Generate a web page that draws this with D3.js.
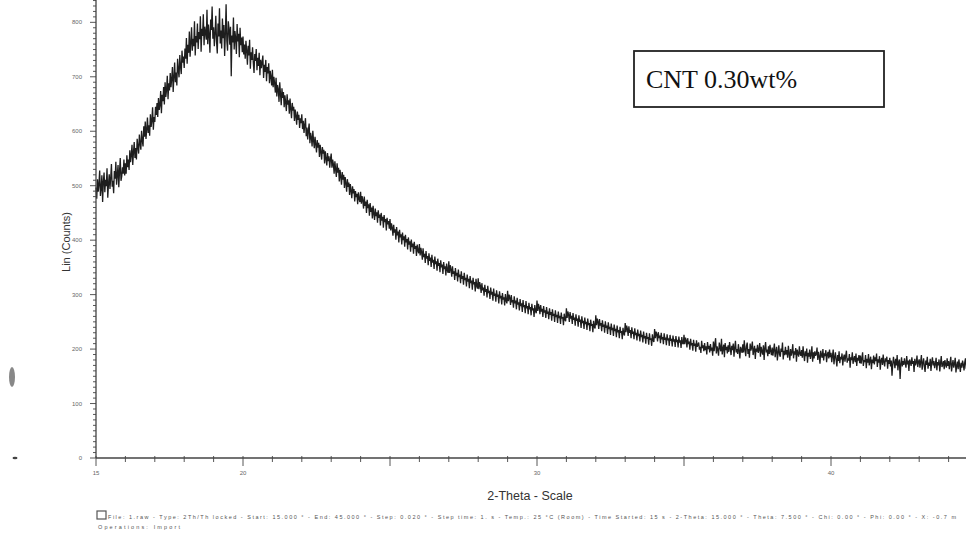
<!DOCTYPE html>
<html>
<head>
<meta charset="utf-8">
<script src="https://cdn.jsdelivr.net/npm/d3@7"></script>
<style>
  body { margin: 0; background: #fff; }
  svg { display: block; }
</style>
</head>
<body>
<div id="chart"></div>
<script>
// 2-theta start and step of the scan (degrees)
const thetaStart = 15;
const thetaStep = 0.025;

// counts, one degree (40 points) per pair of lines, 15..44
const counts = [
  497,476,512,489,503,528,481,495,519,470,507,524,488,511,499,532,478,503,521,494,
  515,540,498,509,486,527,513,544,502,520,538,497,526,551,509,517,534,522,548,519,
  541,522,556,534,548,529,565,543,557,575,538,562,580,551,569,548,586,571,559,594,
  577,566,601,583,572,609,590,618,586,603,625,597,611,592,631,608,620,644,603,626,
  617,645,630,652,626,661,639,648,674,633,667,655,681,649,690,663,676,702,659,688,
  675,707,681,697,718,672,699,726,690,708,684,733,712,699,740,719,705,748,726,737,
  716,752,733,771,724,759,744,783,737,762,791,748,770,756,802,739,775,763,798,751,
  782,769,811,746,788,775,815,758,792,781,768,823,760,796,777,744,805,786,829,770,
  791,756,780,812,765,743,798,774,826,761,785,752,807,771,795,738,779,833,766,748,
  802,788,759,792,701,776,763,809,750,784,771,742,797,765,779,736,790,758,772,745,
  774,741,759,733,766,748,722,757,739,768,715,745,731,754,726,707,742,729,751,712,
  735,720,744,703,731,716,727,739,698,722,709,731,692,718,706,725,688,711,700,684,
  713,681,700,688,671,698,664,685,677,654,690,669,648,679,661,672,644,666,653,637,
  668,649,657,632,660,641,624,652,638,645,619,640,628,612,636,621,630,606,624,615,
  631,604,619,597,612,624,591,607,585,602,614,578,597,589,572,601,583,569,590,576,
  561,584,570,579,553,575,562,548,571,559,566,541,563,550,537,560,545,554,533,549,
  559,533,548,539,522,545,530,516,541,524,533,508,529,517,502,525,511,520,496,516,
  505,489,512,498,506,483,503,491,477,499,486,494,471,490,479,485,466,488,476,470,
  489,467,481,473,458,480,463,471,450,474,459,466,445,468,452,460,440,463,449,437,
  458,444,451,432,455,441,447,427,450,436,443,423,446,433,439,418,441,429,435,421,
  439,418,431,423,408,428,414,420,401,424,409,416,396,419,405,411,392,414,400,407,
  388,410,396,402,383,405,392,398,379,401,387,394,375,397,384,389,371,392,381,376,
  393,372,386,378,364,385,369,375,358,380,366,371,354,376,362,368,351,373,359,364,
  347,370,356,361,344,366,353,358,341,363,350,355,338,360,347,352,335,357,345,340,
  361,340,354,346,333,352,338,343,327,349,335,340,324,346,332,337,321,343,329,334,
  318,340,327,331,315,337,324,329,312,334,321,326,309,331,319,323,306,329,316,311,
  330,310,323,316,303,321,308,313,298,318,305,310,295,316,303,307,292,313,300,305,
  289,311,298,302,287,308,296,300,284,306,293,298,282,303,291,295,280,301,289,284,
  307,288,300,294,281,299,286,290,276,297,284,289,273,294,282,286,271,292,279,284,
  268,290,277,281,266,288,275,279,264,285,273,277,262,283,271,275,259,281,269,266,
  289,270,283,276,264,281,269,274,259,279,267,271,257,277,265,269,255,275,263,268,
  252,273,261,265,250,271,259,263,248,269,257,261,246,267,256,259,244,265,254,251,
  275,257,269,263,250,268,256,261,246,266,254,258,243,264,252,256,241,262,250,254,
  239,260,248,252,237,258,246,250,235,256,244,248,233,254,243,246,231,252,241,238,
  262,244,256,250,237,255,243,248,233,253,241,245,230,251,239,243,228,249,237,241,
  226,247,235,239,224,245,233,237,222,243,231,235,220,241,230,233,218,239,228,225,
  248,231,243,237,224,242,230,235,220,240,228,232,218,238,226,230,216,236,224,228,
  214,234,222,226,212,232,220,224,210,230,219,222,208,229,217,220,206,227,216,213,
  237,220,232,227,214,231,220,225,211,230,218,222,209,229,217,221,207,227,216,220,
  206,226,215,219,205,225,214,218,204,224,213,217,203,223,212,216,202,222,211,209,
  226,209,221,216,203,220,209,214,199,219,207,211,197,217,206,210,195,216,204,208,
  212,199,204,193,215,202,207,196,211,198,205,190,213,200,206,194,209,197,203,188,
  214,196,209,220,192,205,199,188,212,203,196,219,190,201,208,185,211,198,204,192,
  207,195,213,201,189,206,198,210,186,203,215,194,200,191,209,197,183,204,199,193,
  209,194,216,199,187,206,212,191,200,184,210,197,203,214,189,198,206,182,201,195,
  208,193,199,211,186,204,196,190,207,180,202,213,194,199,187,205,191,208,196,189,
  203,188,199,210,185,196,204,179,193,207,190,186,201,195,212,181,197,189,204,190,
  198,184,206,192,179,200,188,195,209,183,196,190,202,177,199,192,186,205,191,188,
  198,184,205,190,178,196,187,201,175,193,186,199,182,190,205,177,194,183,196,188,
  191,203,180,195,186,173,197,189,184,200,179,192,187,198,176,190,195,183,199,185,
  193,176,188,199,172,185,194,180,168,189,178,196,174,186,181,192,170,184,190,177,
  188,197,175,183,179,191,166,185,180,194,173,182,187,176,192,169,184,179,189,174,
  188,173,183,194,169,180,176,189,165,182,175,191,170,179,186,163,181,174,188,172,
  185,178,192,167,181,175,187,162,179,184,171,190,176,168,183,177,186,164,180,173,
  184,168,179,151,172,186,175,165,182,170,189,161,176,181,145,173,185,168,178,171,
  183,174,166,187,172,179,160,181,176,169,185,173,178,158,182,170,175,188,167,177,
  181,166,177,189,162,174,183,168,158,179,171,186,164,175,169,182,160,176,185,170,
  178,165,173,184,161,176,170,181,159,174,187,167,172,178,163,180,171,166,183,169,
  178,163,175,186,159,171,180,166,173,184,157,169,177,163,181,170,158,175,166,179,
  172,161,176,183,164,170,178,155,173,167,181,162,175,169,177,160,174,171,165,178
];

const yTicks = [0, 100, 200, 300, 400, 500, 600, 700, 800];
const xTicks = [15, 20, 30, 40];
const sampleLabel = 'CNT 0.30wt%';
const footerLine1 = 'File: 1.raw - Type: 2Th/Th locked - Start: 15.000 \u00b0 - End: 45.000 \u00b0 - Step: 0.020 \u00b0 - Step time: 1. s - Temp.: 25 \u00b0C (Room) - Time Started: 15 s - 2-Theta: 15.000 \u00b0 - Theta: 7.500 \u00b0 - Chi: 0.00 \u00b0 - Phi: 0.00 \u00b0 - X: -0.7 m';
const footerLine2 = 'Operations: Import';

const data = counts.map((c, i) => ({ t: thetaStart + i * thetaStep, c }));

const W = 966, H = 537;
const svg = d3.select('#chart').append('svg')
  .attr('width', W).attr('height', H);

const x = d3.scaleLinear().domain([15, 45]).range([96, 978]);
const y = d3.scaleLinear().domain([0, 841]).range([458, 0]);

// curve
svg.append('path')
  .datum(data)
  .attr('fill', 'none')
  .attr('stroke', '#1e1e1e')
  .attr('stroke-width', 1.3)
  .attr('stroke-linejoin', 'bevel')
  .attr('d', d3.line().x(d => x(d.t)).y(d => y(d.c)));

// y axis
const axisCol = '#444';
svg.append('line')
  .attr('x1', x(15)).attr('x2', x(15))
  .attr('y1', 0).attr('y2', y(0))
  .attr('stroke', axisCol).attr('stroke-width', 1.3);

svg.selectAll('.yminor')
  .data(d3.range(0, 841, 10))
  .enter().append('line')
  .attr('x1', d => x(15) - (d % 100 === 0 ? 6 : 3))
  .attr('x2', x(15))
  .attr('y1', d => y(d)).attr('y2', d => y(d))
  .attr('stroke', axisCol).attr('stroke-width', 0.9);

svg.selectAll('.ylab')
  .data(yTicks)
  .enter().append('text')
  .attr('x', 82).attr('y', d => y(d) + 2)
  .attr('text-anchor', 'end')
  .style('font-family', 'Arial, "Liberation Sans", sans-serif')
  .style('font-size', '6px')
  .style('fill', '#666')
  .text(d => d);

// x axis
svg.append('line')
  .attr('x1', x(15)).attr('x2', W)
  .attr('y1', y(0)).attr('y2', y(0))
  .attr('stroke', axisCol).attr('stroke-width', 1.3);

svg.selectAll('.xminor')
  .data(d3.range(15, 46, 1))
  .enter().append('line')
  .attr('x1', d => x(d)).attr('x2', d => x(d))
  .attr('y1', y(0) - 2)
  .attr('y2', d => y(0) + (d % 5 === 0 ? 8 : 4))
  .attr('stroke', axisCol).attr('stroke-width', 0.9);

svg.selectAll('.xlab')
  .data(xTicks)
  .enter().append('text')
  .attr('x', d => x(d)).attr('y', 475)
  .attr('text-anchor', 'middle')
  .style('font-family', 'Arial, "Liberation Sans", sans-serif')
  .style('font-size', '6px')
  .style('fill', '#666')
  .text(d => d);

// axis titles
svg.append('text')
  .attr('transform', 'translate(70,242) rotate(-90)')
  .attr('text-anchor', 'middle')
  .style('font-family', 'Arial, "Liberation Sans", sans-serif')
  .style('font-size', '11px')
  .style('fill', '#333')
  .text('Lin (Counts)');

svg.append('text')
  .attr('x', 530).attr('y', 500)
  .attr('text-anchor', 'middle')
  .style('font-family', 'Arial, "Liberation Sans", sans-serif')
  .style('font-size', '12.5px')
  .style('fill', '#333')
  .text('2-Theta - Scale');

// footer
svg.append('rect')
  .attr('x', 97).attr('y', 511).attr('width', 9).attr('height', 8)
  .attr('fill', 'none').attr('stroke', '#555').attr('stroke-width', 1.2);
svg.append('text')
  .attr('x', 108).attr('y', 518.5)
  .attr('textLength', 848).attr('lengthAdjust', 'spacing')
  .style('font-family', 'Arial, "Liberation Sans", sans-serif')
  .style('font-size', '5.5px')
  .style('fill', '#555')
  .text(footerLine1);
svg.append('text')
  .attr('x', 98).attr('y', 529)
  .attr('textLength', 82).attr('lengthAdjust', 'spacing')
  .style('font-family', 'Arial, "Liberation Sans", sans-serif')
  .style('font-size', '5.5px')
  .style('fill', '#555')
  .text(footerLine2);

// sample label box
svg.append('rect')
  .attr('x', 634).attr('y', 51).attr('width', 250).attr('height', 56)
  .attr('fill', '#fff').attr('stroke', '#222').attr('stroke-width', 1.8);
svg.append('text')
  .attr('x', 646).attr('y', 88)
  .style('font-family', '"Liberation Serif", "Times New Roman", serif')
  .style('font-size', '26px')
  .style('fill', '#111')
  .text(sampleLabel);

// scan artefacts on the left margin
svg.append('ellipse')
  .attr('cx', 12).attr('cy', 377).attr('rx', 3).attr('ry', 10)
  .attr('fill', '#555').attr('opacity', 0.7);
svg.append('ellipse')
  .attr('cx', 15).attr('cy', 458).attr('rx', 2.5).attr('ry', 1.2)
  .attr('fill', '#444');
</script>
</body>
</html>
